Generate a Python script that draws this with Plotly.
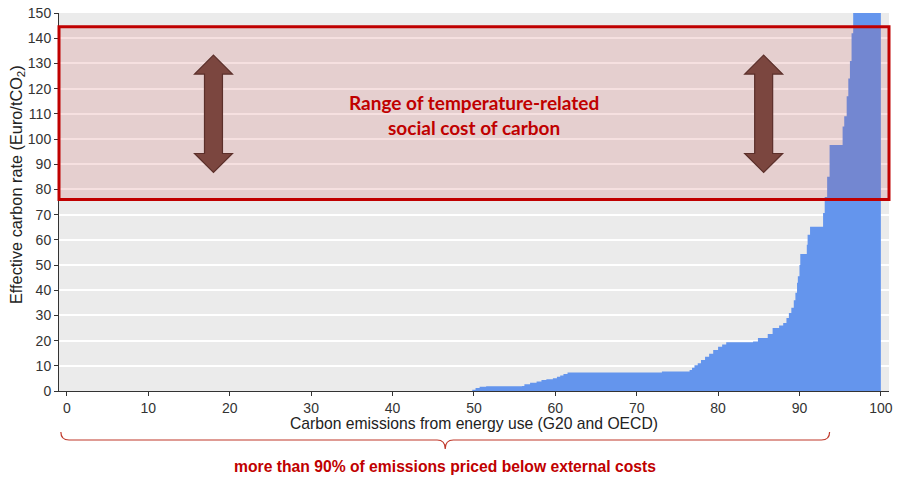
import plotly.graph_objects as go

# ---- data ----
emission_share = [0, 49.6, 49.8, 50.2, 50.7, 51.5, 55.9, 56.2, 56.9, 57.7, 58.3, 58.9, 59.7,
                  60.2, 60.6, 61.0, 61.5, 73.1, 76.5, 76.8, 77.1, 77.5, 77.9, 78.4, 78.9,
                  79.4, 80.0, 80.5, 81.0, 84.3, 84.9, 86.1, 86.7, 87.5, 88.0, 88.4, 88.7,
                  89.0, 89.3, 89.5, 89.7, 89.8, 90.0, 90.1, 90.9, 91.0, 91.3, 92.9, 93.1,
                  93.4, 93.7, 95.3, 95.5, 95.8, 96.0, 96.2, 96.4, 96.6, 100]
carbon_rate = [0, 0, 0.5, 1.2, 1.7, 1.9, 2.0, 2.7, 3.3, 3.8, 4.4, 4.7, 5.1,
               5.7, 6.2, 6.7, 7.3, 7.7, 8.3, 9.2, 10.2, 11.0, 12.3, 13.6, 14.8,
               16.3, 17.6, 18.5, 19.3, 19.6, 21.0, 22.6, 25.0, 26.0, 27.0, 29.0, 31.0,
               33.0, 36.0, 39.0, 43.0, 45.5, 50.0, 54.4, 58.0, 62.0, 65.2, 70.6, 77.0,
               85.0, 97.6, 105, 109, 117, 124, 131, 142, 200, 200]

x_ticks = list(range(0, 101, 10))
y_ticks = list(range(0, 151, 10))
scc_range = (76, 144.5)          # Euro/tCO2 social cost of carbon band
arrow_centers = [18.0, 85.6]
arrow_span = (86.7, 133.3)
brace_span = (-0.75, 93.7)

BLUE = "#6495ED"
RED = "#C00000"
FONT = "Liberation Sans, Arial, sans-serif"

fig = go.Figure()
fig.add_trace(go.Scatter(
    x=emission_share, y=carbon_rate, mode="lines", line=dict(shape="hv", width=0, color=BLUE),
    fill="tozeroy", fillcolor=BLUE, hoverinfo="skip", showlegend=False))

# band of social cost of carbon
fig.add_shape(type="rect", xref="paper", yref="y", x0=0.0, x1=1.0,
              y0=scc_range[0], y1=scc_range[1],
              fillcolor="rgba(200,60,60,0.16)", line=dict(color=RED, width=3), layer="above")

# double arrows (sizes in pixels converted to data units)
px_x = 8.15   # pixels per x unit
px_y = 2.52   # pixels per y unit
shaft_hw = 9 / px_x
head_hw = 19 / px_x
head_h = 19 / px_y
for xc in arrow_centers:
    yb, yt = arrow_span
    pts = [(xc, yt), (xc + head_hw, yt - head_h), (xc + shaft_hw, yt - head_h),
           (xc + shaft_hw, yb + head_h), (xc + head_hw, yb + head_h), (xc, yb),
           (xc - head_hw, yb + head_h), (xc - shaft_hw, yb + head_h),
           (xc - shaft_hw, yt - head_h), (xc - head_hw, yt - head_h)]
    path = "M " + " L ".join(f"{a},{b}" for a, b in pts) + " Z"
    fig.add_shape(type="path", path=path, xref="x", yref="y",
                  fillcolor="#7B463F", line=dict(color="#5B2F2A", width=1.2), layer="above")

fig.add_annotation(x=50.0, y=109.5, xref="x", yref="y",
                   text="<b>Range of temperature-related<br>social cost of carbon</b>",
                   showarrow=False, font=dict(family="Lato, Open Sans, sans-serif", size=19, color=RED),
                   align="center", xanchor="center", yanchor="middle")

# brace below the x-axis (yref in paper units)
plot_h = 378
y_line = -49 / plot_h
y_top = -41 / plot_h
y_tip = -58 / plot_h
bl, br = brace_span
bm = (bl + br) / 2
brace = (f"M {bl},{y_top} Q {bl},{y_line} {bl + 1},{y_line} L {bm - 1},{y_line} "
         f"Q {bm},{y_line} {bm},{y_tip} Q {bm},{y_line} {bm + 1},{y_line} "
         f"L {br - 1},{y_line} Q {br},{y_line} {br},{y_top}")
fig.add_shape(type="path", path=brace, xref="x", yref="paper",
              line=dict(color="#C0392B", width=1.2))
fig.add_annotation(x=bm, y=-76 / plot_h, xref="x", yref="paper",
                   text="<b>more than 90% of emissions priced below external costs</b>",
                   showarrow=False, font=dict(family=FONT, size=15.7, color=RED),
                   xanchor="center", yanchor="middle")

# axis titles
fig.add_annotation(x=0.5, y=-33 / plot_h, xref="paper", yref="paper",
                   text="Carbon emissions from energy use (G20 and OECD)",
                   showarrow=False, font=dict(family=FONT, size=15.7, color="#222222"),
                   xanchor="center", yanchor="middle")
fig.add_annotation(x=-42 / 830, y=0.545, xref="paper", yref="paper", textangle=-90,
                   text="Effective carbon rate (Euro/tCO<sub>2</sub>)",
                   showarrow=False, font=dict(family=FONT, size=16.3, color="#222222"),
                   xanchor="center", yanchor="middle")

fig.update_layout(
    width=898, height=478,
    margin=dict(l=59, r=9, t=13, b=87),
    paper_bgcolor="white", plot_bgcolor="#EBEBEB",
    font=dict(family=FONT, size=14, color="#222222"),
)
fig.update_xaxes(range=[-0.98, 101.0], tickvals=x_ticks, showgrid=False, zeroline=False,
                 ticks="outside", ticklen=4, tickcolor="#333333", showline=True,
                 linecolor="#333333", linewidth=1, automargin=False,
                 ticklabeloverflow="allow",
                 tickfont=dict(size=14, color="#333333"))
fig.update_yaxes(range=[0, 150], tickvals=y_ticks, showgrid=True, gridcolor="white", gridwidth=1.5,
                 zeroline=False, ticks="outside", ticklen=4, tickcolor="#333333",
                 showline=True, linecolor="#333333", linewidth=1, automargin=False,
                 ticklabeloverflow="allow",
                 tickfont=dict(size=14, color="#333333"))

fig.write_html("out.html", config={"displayModeBar": False},
               post_script="document.body.style.margin='0px';")
